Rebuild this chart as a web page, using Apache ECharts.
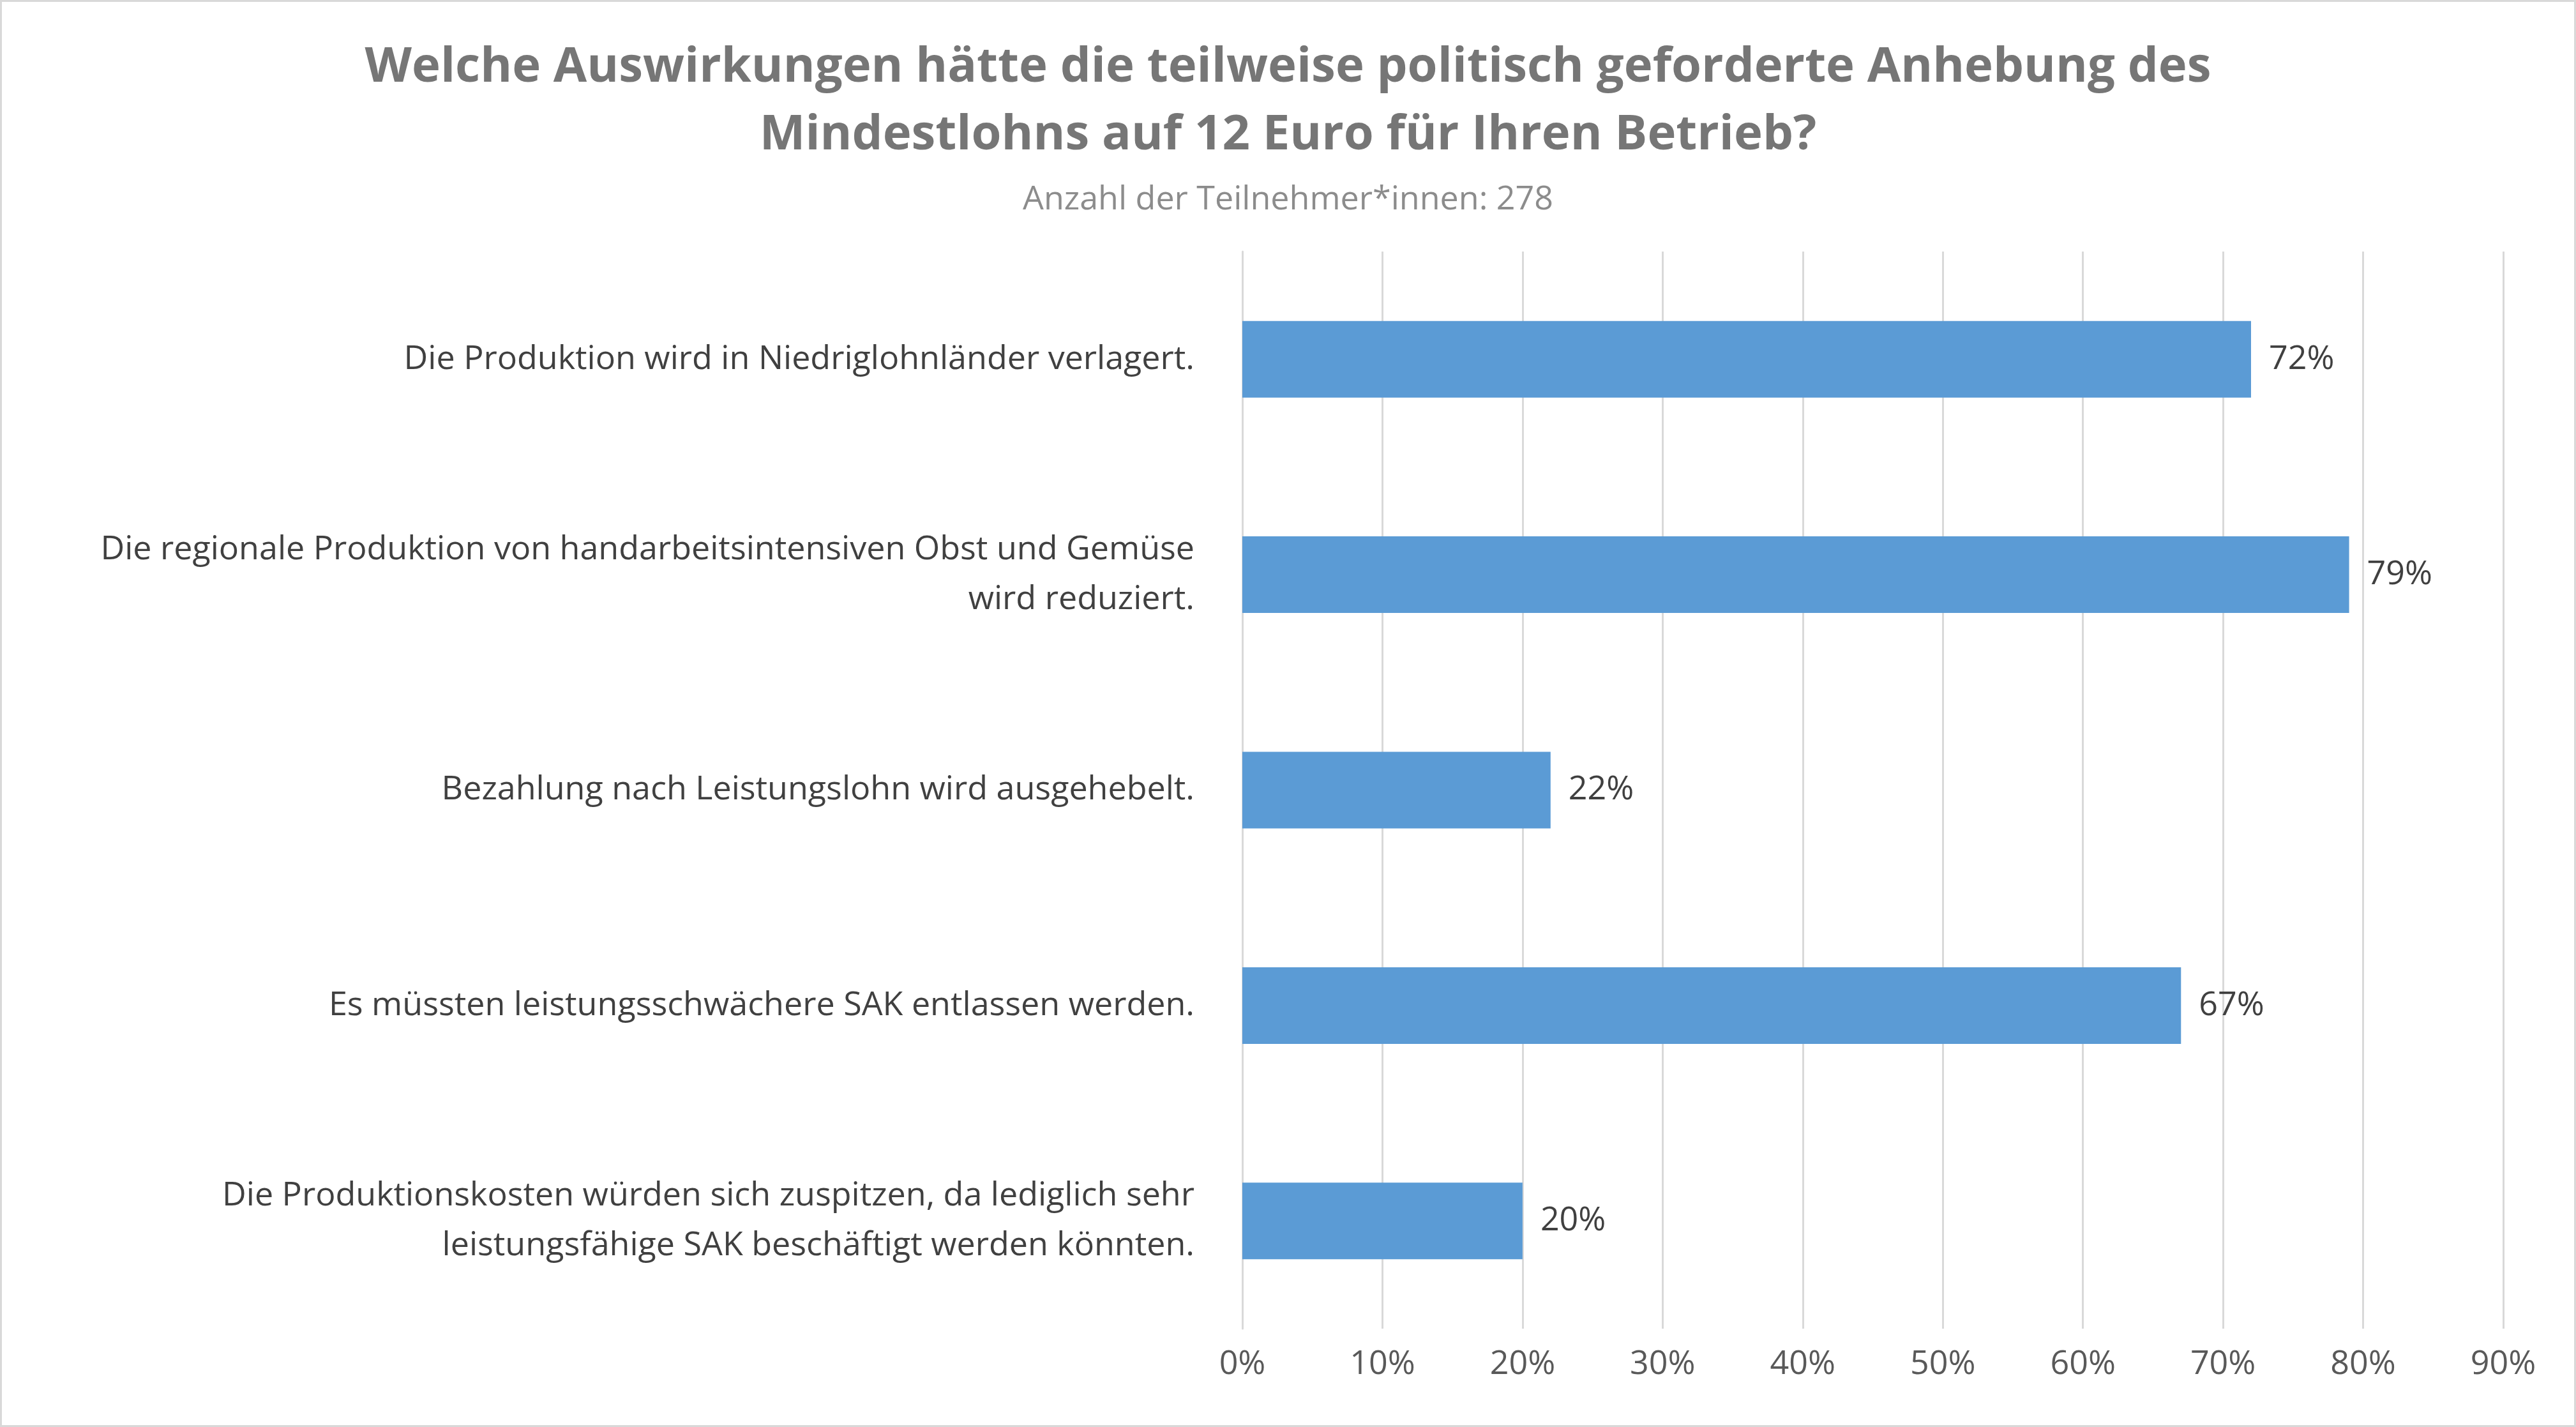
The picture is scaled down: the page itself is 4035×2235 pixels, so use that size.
<!DOCTYPE html>
<html>
<head>
<meta charset="utf-8">
<script src="https://cdn.jsdelivr.net/npm/echarts@6/dist/echarts.min.js"></script>
<style>
html, body { margin: 0; padding: 0; background: #fff; }
#chart { width: 4035px; height: 2235px; box-sizing: border-box; border: 3px solid #d9d9d9; }
</style>
</head>
<body>
<div id="chart"></div>
<script>
var categories = [
    'Die Produktion wird in Niedriglohnländer verlagert.',
    'Die regionale Produktion von handarbeitsintensiven Obst und Gemüse\nwird reduziert.',
    'Bezahlung nach Leistungslohn wird ausgehebelt.',
    'Es müssten leistungsschwächere SAK entlassen werden.',
    'Die Produktionskosten würden sich zuspitzen, da lediglich sehr\nleistungsfähige SAK beschäftigt werden könnten.'
];
var values = [72, 79, 22, 67, 20];

var chart = echarts.init(document.getElementById('chart'));

var option = {
    animation: false,
    title: {
        text: 'Welche Auswirkungen hätte die teilweise politisch geforderte Anhebung des\nMindestlohns auf 12 Euro für Ihren Betrieb?',
        subtext: 'Anzahl der Teilnehmer*innen: 278',
        left: 'center',
        top: 45,
        itemGap: 22,
        textStyle: {
            fontFamily: 'Open Sans', fontWeight: 'bold', fontSize: 76,
            color: '#767676', lineHeight: 106
        },
        subtextStyle: {
            fontFamily: 'Open Sans', fontSize: 52, color: '#8c8c8c'
        }
    },
    grid: { left: 1943, right: 111, top: 391, bottom: 151 },
    xAxis: {
        type: 'value', min: 0, max: 90, interval: 10,
        axisLabel: {
            formatter: '{value}%', fontFamily: 'Open Sans', fontSize: 52,
            color: '#595959', margin: 30
        },
        axisLine: { show: false },
        axisTick: { show: false },
        splitLine: { lineStyle: { color: '#d9d9d9', width: 3 } }
    },
    yAxis: {
        type: 'category', inverse: true, data: categories,
        axisLabel: {
            fontFamily: 'Open Sans', fontSize: 52, color: '#404040',
            margin: 75, lineHeight: 78, align: 'right'
        },
        axisLine: { lineStyle: { color: '#d9d9d9', width: 3 } },
        axisTick: { show: false }
    },
    series: [{
        type: 'bar', data: values, barWidth: 120,
        itemStyle: { color: '#5B9BD5' },
        label: {
            show: true, position: 'right', formatter: '{c}%', distance: 28,
            fontFamily: 'Open Sans', fontSize: 52, color: '#404040'
        }
    }]
};

chart.setOption(option);
</script>
</body>
</html>
